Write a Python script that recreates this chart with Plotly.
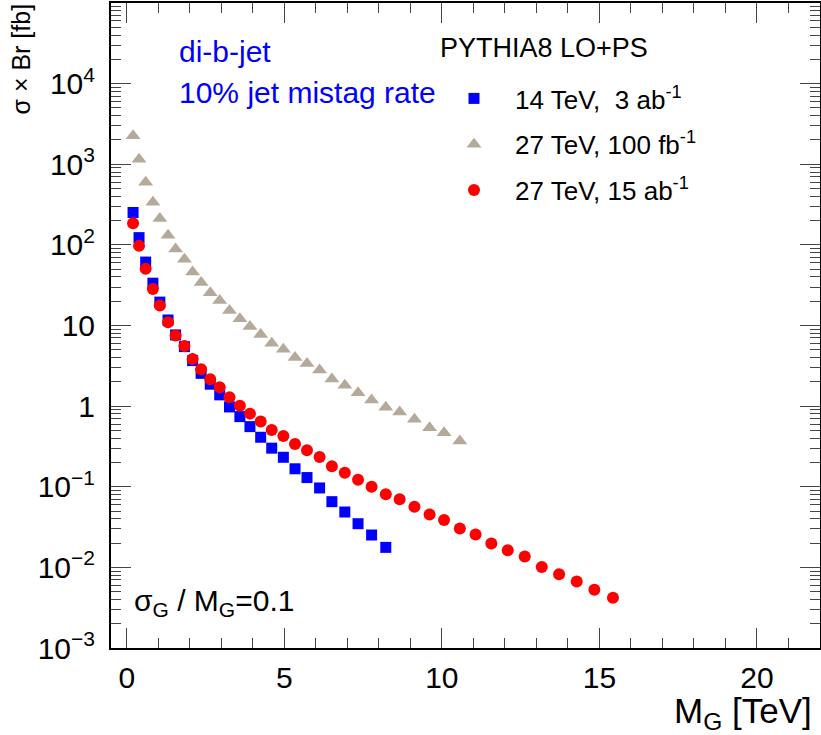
import plotly.graph_objects as go

# ---- data ----
mass = [0.20, 0.39, 0.60, 0.83, 1.05, 1.31, 1.55, 1.83, 2.09, 2.36, 2.65, 2.95, 3.26, 3.59,
        3.91, 4.25, 4.60, 4.97, 5.34, 5.72, 6.12, 6.51, 6.92, 7.34, 7.77, 8.22, 8.66, 9.13,
        9.61, 10.07, 10.57, 11.07, 11.57, 12.09, 12.63, 13.17, 13.72, 14.28, 14.84, 15.43]

xs_14TeV_3ab = [252, 123, 61.2, 33.5, 19.5, 11.7, 7.64, 5.47, 3.67, 2.55, 1.87, 1.38, 0.977,
                0.741, 0.557, 0.411, 0.301, 0.232, 0.167, 0.130, 0.0966, 0.0653, 0.0486,
                0.0348, 0.0252, 0.0177]

xs_27TeV_100fb = [2250, 1157, 596, 339, 212, 132, 89.1, 66.5, 46.0, 34.1, 25.5, 20.4, 15.3,
                  12.1, 9.69, 7.76, 6.03, 5.08, 4.02, 3.39, 2.80, 2.17, 1.82, 1.47, 1.19,
                  0.968, 0.843, 0.687, 0.541, 0.469, 0.370]

xs_27TeV_15ab = [186, 97.2, 50.4, 28.4, 17.7, 11.0, 7.50, 5.58, 3.85, 2.87, 2.16, 1.71, 1.29,
                 1.01, 0.807, 0.643, 0.507, 0.427, 0.338, 0.284, 0.234, 0.179, 0.149, 0.122,
                 0.100, 0.0809, 0.0701, 0.0565, 0.0452, 0.0387, 0.0304, 0.0256, 0.0198,
                 0.0163, 0.0136, 0.0101, 0.00824, 0.00668, 0.00528, 0.00420]

series_names = ["14 TeV,  3 ab<sup>-1</sup>", "27 TeV, 100 fb<sup>-1</sup>",
                "27 TeV, 15 ab<sup>-1</sup>"]

y_tickvals = [1e-3, 1e-2, 1e-1, 1, 10, 100, 1e3, 1e4]
y_ticktext = ["10<sup>\u22123</sup>", "10<sup>\u22122</sup>", "10<sup>\u22121</sup>", "1", "10",
              "10<sup>2</sup>", "10<sup>3</sup>", "10<sup>4</sup>"]
x_tickvals = [0, 5, 10, 15, 20]

FONT = "Liberation Sans, Arial, sans-serif"

fig = go.Figure()
fig.add_trace(go.Scatter(x=mass[:len(xs_14TeV_3ab)], y=xs_14TeV_3ab, mode="markers",
                         name=series_names[0], legendgroup="a",
                         marker=dict(symbol="square", size=11, color="rgb(0,0,255)")))
fig.add_trace(go.Scatter(x=mass[:len(xs_27TeV_100fb)], y=xs_27TeV_100fb, mode="markers",
                         name=series_names[1], legendgroup="b",
                         marker=dict(symbol="triangle-up", size=13, color="rgb(181,170,153)")))
fig.add_trace(go.Scatter(x=mass[:len(xs_27TeV_15ab)], y=xs_27TeV_15ab, mode="markers",
                         name=series_names[2], legendgroup="c",
                         marker=dict(symbol="circle", size=12, color="rgb(255,0,0)")))

W, H = 821, 735
ml, mr, mt, mb = 111, 1, 3, 87
pw, ph = W - ml - mr, H - mt - mb


def px(xpix):
    return (xpix - ml) / pw


def py(ypix):
    return 1 - (ypix - mt) / ph


fig.update_layout(
    width=W, height=H,
    margin=dict(l=ml, r=mr, t=mt, b=mb, autoexpand=False),
    paper_bgcolor="white", plot_bgcolor="white",
    font=dict(family=FONT, color="black", size=26),
    showlegend=True,
    legend=dict(x=px(433), y=py(75), xanchor="left", yanchor="top",
                bgcolor="rgba(0,0,0,0)", borderwidth=0, tracegroupgap=9,
                font=dict(size=26, family=FONT), itemwidth=72),
    xaxis=dict(range=[-0.5, 22], tickvals=x_tickvals, ticks="inside", ticklen=20,
               tickwidth=1, showline=True, linewidth=2, linecolor="black", mirror="allticks",
               showgrid=False, zeroline=False, tickfont=dict(size=30), ticklabelstandoff=2,
               automargin=False,
               minor=dict(dtick=1, ticks="inside", ticklen=10, tickwidth=1, showgrid=False)),
    yaxis=dict(type="log", range=[-3, 5], tickvals=y_tickvals, ticktext=y_ticktext,
               ticks="inside", ticklen=20, tickwidth=1, showline=True, linewidth=2,
               linecolor="black", mirror="allticks", showgrid=False, zeroline=False,
               tickfont=dict(size=30), ticklabelstandoff=8, automargin=False,
               minor=dict(dtick="D1", ticks="inside", ticklen=10, tickwidth=1, showgrid=False)),
)

ann = [
    dict(text="\u03c3 \u00d7 Br [fb]", x=px(20), y=py(2), xref="paper", yref="paper",
         textangle=-90, xanchor="center", yanchor="top", showarrow=False,
         font=dict(size=25)),
    dict(text="M<sub>G</sub> [TeV]", x=px(814), y=py(713), xref="paper", yref="paper",
         xanchor="right", yanchor="middle", showarrow=False, font=dict(size=35)),
    dict(text="di-b-jet", x=px(177), y=py(52), xref="paper", yref="paper",
         xanchor="left", yanchor="middle", showarrow=False, font=dict(size=30, color="rgb(0,0,255)")),
    dict(text="10% jet mistag rate", x=px(177), y=py(92), xref="paper", yref="paper",
         xanchor="left", yanchor="middle", showarrow=False, font=dict(size=30, color="rgb(0,0,255)")),
    dict(text="PYTHIA8 LO+PS", x=px(438), y=py(48), xref="paper", yref="paper",
         xanchor="left", yanchor="middle", showarrow=False, font=dict(size=27)),
    dict(text="\u03c3<sub>G</sub> / M<sub>G</sub>=0.1", x=px(132), y=py(602), xref="paper",
         yref="paper", xanchor="left", yanchor="middle", showarrow=False, font=dict(size=30)),
]
fig.update_layout(annotations=ann)

fig.write_html("out.html", config={"displayModeBar": False})

# remove the browser's default page margin so the figure sits at the window's corner
with open("out.html", "r", encoding="utf-8") as f:
    html = f.read()
html = html.replace("<body>", "<body style=\"margin:0\">", 1)
with open("out.html", "w", encoding="utf-8") as f:
    f.write(html)
